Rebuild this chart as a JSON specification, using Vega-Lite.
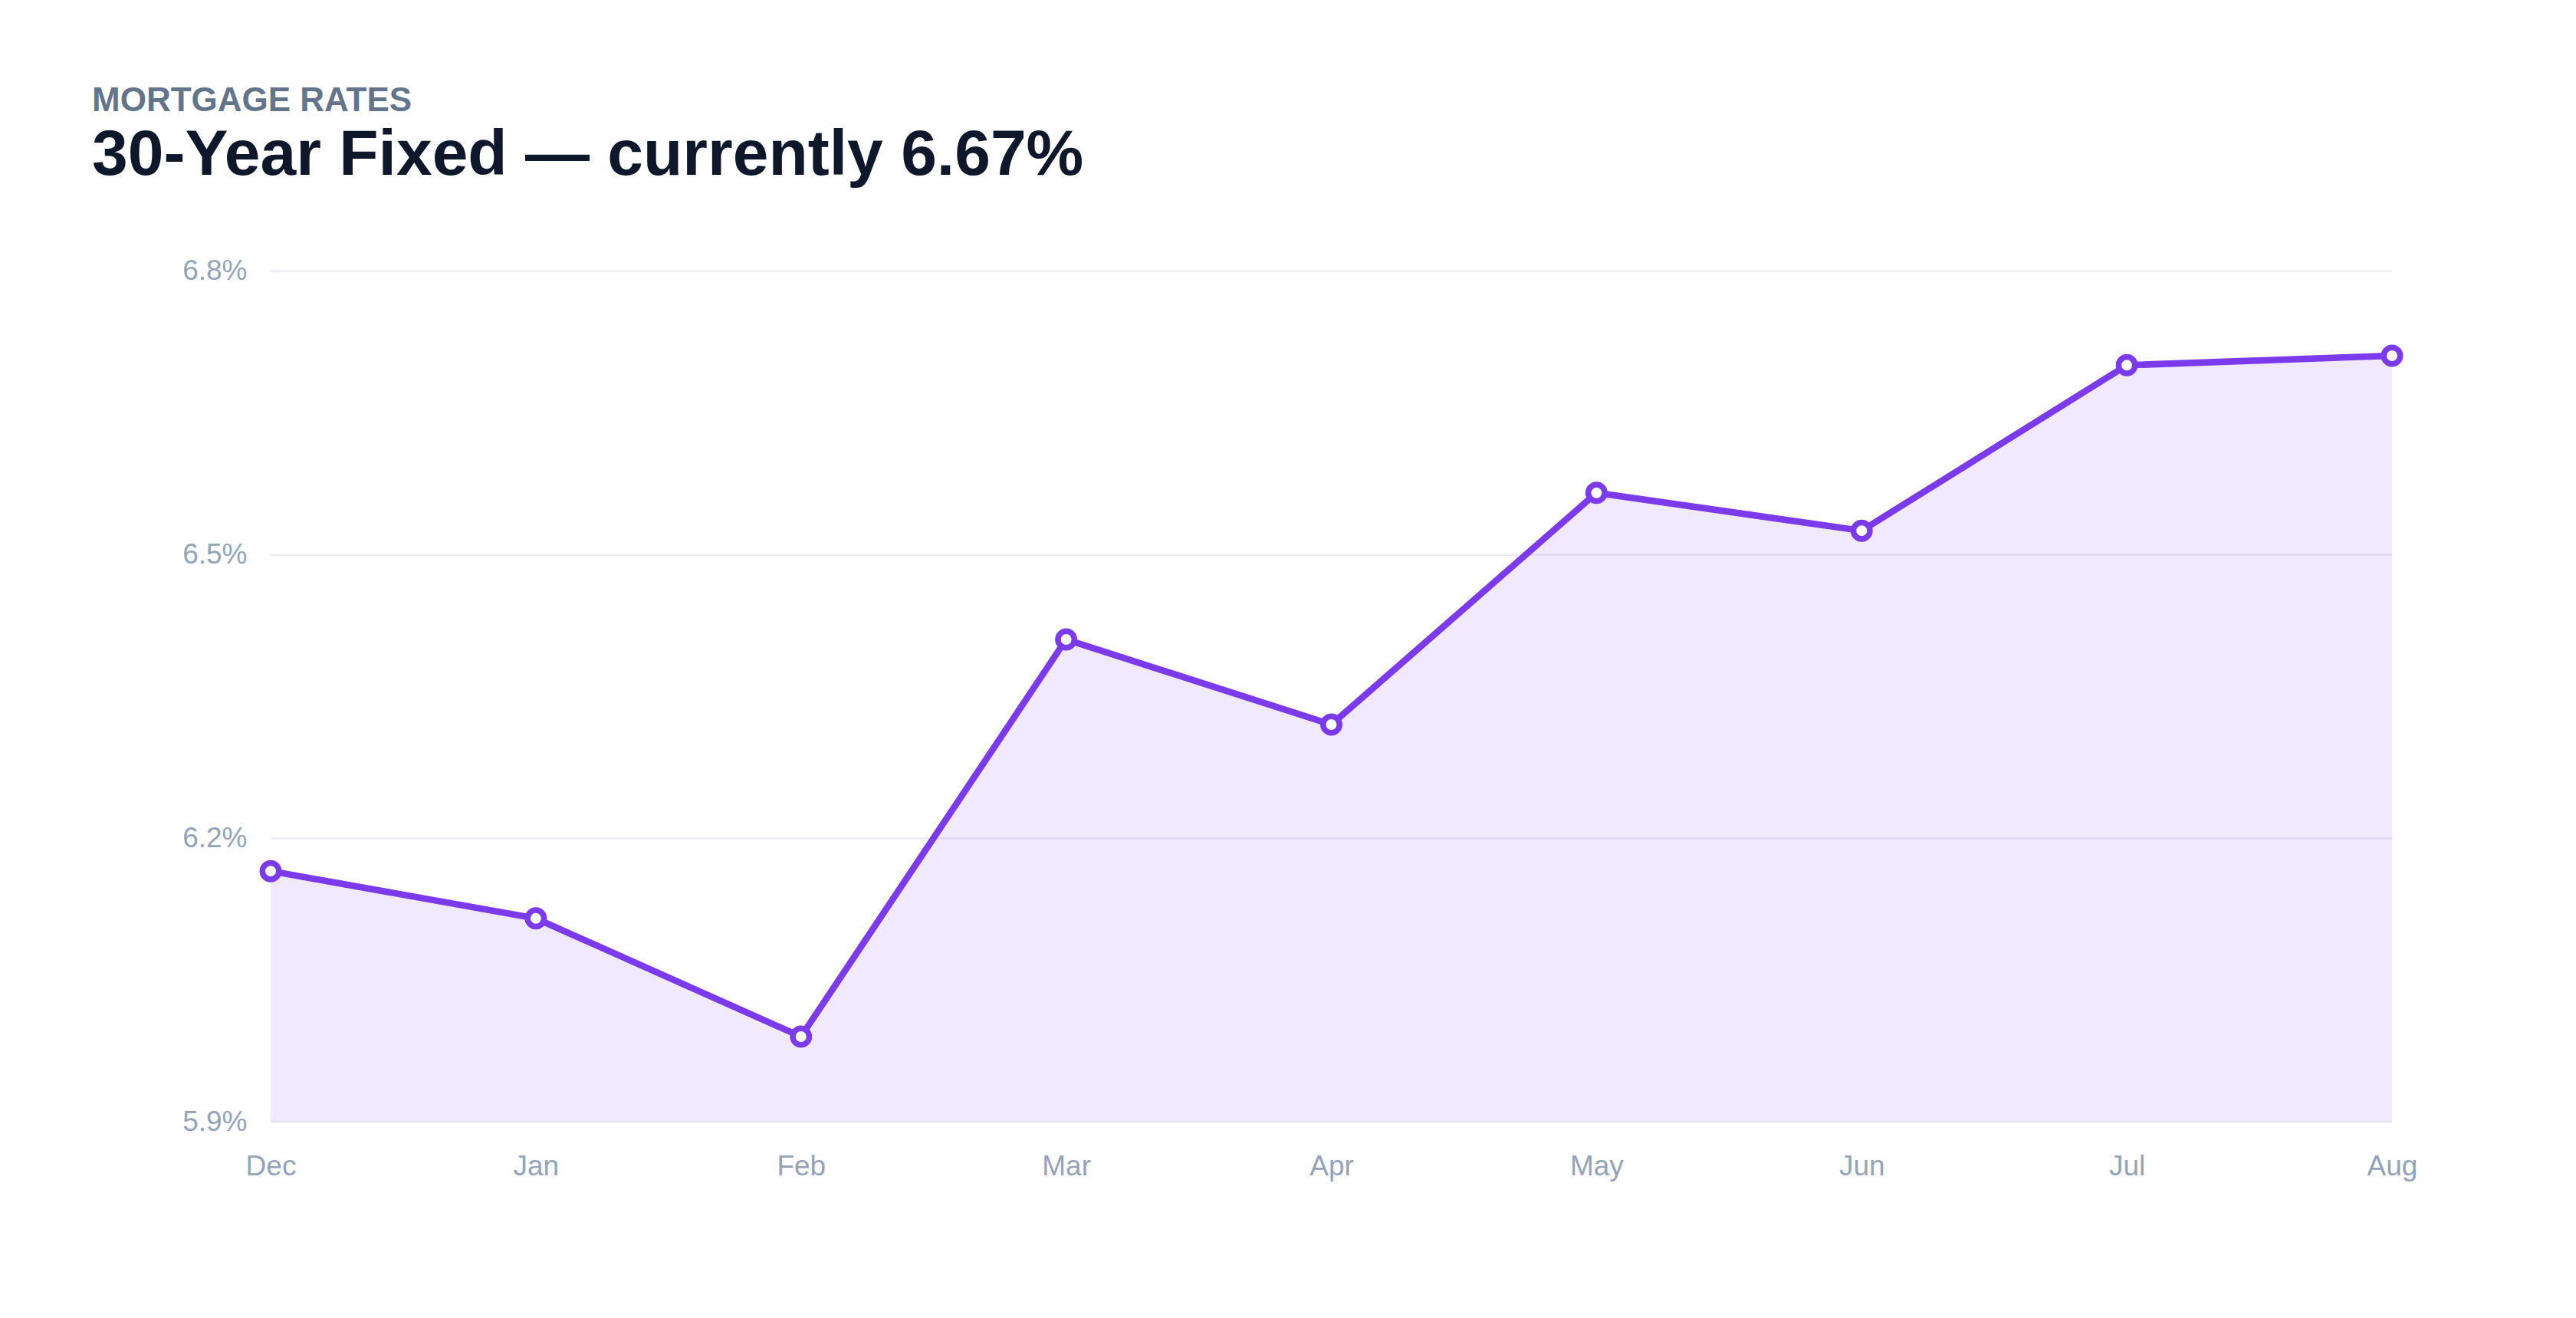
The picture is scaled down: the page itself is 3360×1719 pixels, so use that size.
{
  "$schema": "https://vega.github.io/schema/vega-lite/v6.json",
  "width": 2767,
  "height": 1110,
  "autosize": {"type": "none"},
  "padding": {"left": 353, "top": 353, "right": 240, "bottom": 256},
  "background": "white",
  "title": {
    "text": "MORTGAGE RATES",
    "subtitle": "30-Year Fixed \u2014 currently 6.67%",
    "anchor": "start",
    "frame": "group",
    "dx": -233,
    "offset": 89,
    "font": "Liberation Sans",
    "fontSize": 44,
    "fontWeight": "bold",
    "color": "#64748b",
    "subtitleFont": "Liberation Sans",
    "subtitleFontSize": 84,
    "subtitleFontWeight": "bold",
    "subtitleColor": "#0f172a",
    "subtitlePadding": 8
  },
  "data": {
    "values": [
      {"month": "Dec", "rate": 6.165},
      {"month": "Jan", "rate": 6.115},
      {"month": "Feb", "rate": 5.99},
      {"month": "Mar", "rate": 6.41},
      {"month": "Apr", "rate": 6.32},
      {"month": "May", "rate": 6.565},
      {"month": "Jun", "rate": 6.525},
      {"month": "Jul", "rate": 6.7},
      {"month": "Aug", "rate": 6.71}
    ]
  },
  "encoding": {
    "x": {
      "field": "month",
      "type": "ordinal",
      "sort": null,
      "scale": {"type": "point", "padding": 0},
      "axis": {
        "title": null,
        "labelAngle": 0,
        "labelPadding": 40,
        "grid": false
      }
    },
    "y": {
      "field": "rate",
      "type": "quantitative",
      "scale": {"domain": [5.9, 6.8], "zero": false, "nice": false},
      "axis": {
        "title": null,
        "values": [5.9, 6.2, 6.5, 6.8],
        "labelExpr": "format(datum.value, '.1f') + '%'",
        "labelPadding": 31,
        "grid": true
      }
    }
  },
  "layer": [
    {
      "mark": {"type": "area", "color": "#7c3aed", "opacity": 0.11},
      "encoding": {"y2": {"datum": 5.9}}
    },
    {
      "mark": {"type": "line", "color": "#7c3aed", "strokeWidth": 8.5}
    },
    {
      "mark": {
        "type": "point",
        "shape": "circle",
        "filled": true,
        "fill": "white",
        "stroke": "#7c3aed",
        "strokeWidth": 7.5,
        "size": 460,
        "opacity": 1
      }
    }
  ],
  "config": {
    "view": {"stroke": null},
    "axis": {
      "domain": false,
      "ticks": false,
      "tickSize": 0,
      "labelFont": "Liberation Sans",
      "labelFontSize": 37,
      "labelColor": "#94a3b8",
      "gridColor": "#eef0f6",
      "gridWidth": 3
    }
  }
}
